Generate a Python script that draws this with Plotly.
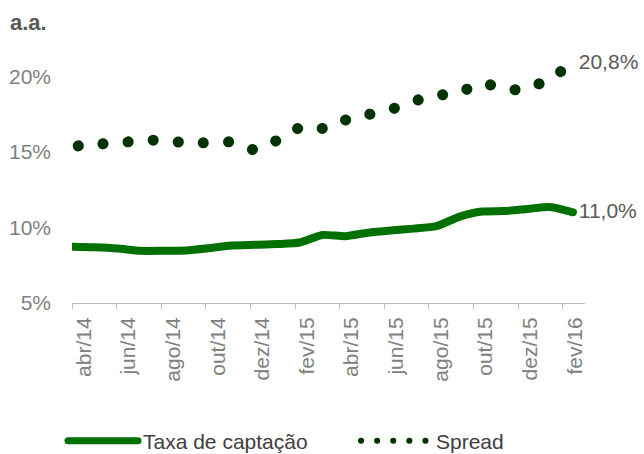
import plotly.graph_objects as go

meses = ["abr/14", "mai/14", "jun/14", "jul/14", "ago/14", "set/14", "out/14", "nov/14", "dez/14",
         "jan/15", "fev/15", "mar/15", "abr/15", "mai/15", "jun/15", "jul/15", "ago/15", "set/15",
         "out/15", "nov/15", "dez/15", "jan/16", "fev/16"]

taxa_captacao = [8.72, 8.68, 8.6, 8.45, 8.45, 8.47, 8.62, 8.8, 8.85, 8.9, 9.0, 9.5,
                 9.42, 9.65, 9.8, 9.92, 10.08, 10.7, 11.05, 11.08, 11.22, 11.35, 11.0]

spread = [15.35, 15.5, 15.58, 15.75, 15.76, 15.6, 15.6, 15.65, 15.14, 15.76, 16.59, 16.55,
          17.1, 17.46, 17.8, 18.35, 18.72, 18.92, 19.55, 19.15, 19.15, 19.9, 20.8]

rotulos_x = meses[::2]
ticks_y = [5, 10, 15, 20]

verde = "#007000"
verde_escuro = "#003300"
fonte = "Liberation Sans, Arial, sans-serif"


def rotulo_final(valores):
    # so o ultimo ponto leva rotulo, no formato 11,0%
    ultimo = "\u00a0" + ("%.1f%%" % valores[-1]).replace(".", ",")
    return [""] * (len(valores) - 1) + [ultimo]


fig = go.Figure()

fig.add_trace(go.Scatter(
    x=meses, y=taxa_captacao, xaxis="x2", name="Taxa de captação",
    mode="lines+text", text=rotulo_final(taxa_captacao), textposition="middle right",
    textfont=dict(size=21, color="#595959", family=fonte),
    line=dict(color=verde, width=8, shape="spline", smoothing=0.6),
    cliponaxis=False, showlegend=False,
))
fig.add_trace(go.Scatter(
    x=meses, y=spread, xaxis="x2", name="Spread",
    mode="lines+text", text=rotulo_final(spread), textposition="middle right",
    textfont=dict(size=21, color="#595959", family=fonte),
    line=dict(color=verde_escuro, width=11, dash="0.1px,25px", shape="spline", smoothing=0.6),
    cliponaxis=False, showlegend=False,
))

# entradas da legenda
fig.add_trace(go.Scatter(x=[None], y=[None], name="Taxa de captação", mode="lines",
                         line=dict(color=verde, width=7), legendwidth=208))
fig.add_trace(go.Scatter(x=[None], y=[None], name="Spread", mode="lines",
                         line=dict(color=verde_escuro, width=6, dash="0.1px,16px")))

fig.update_layout(
    width=644, height=454,
    margin=dict(l=72, r=59, t=46, b=151),
    paper_bgcolor="white", plot_bgcolor="white",
    font=dict(family=fonte, size=21, color="#808080"),
    title=dict(text="<b>a.a.</b>", x=10 / 644, xanchor="left", xref="container",
               y=1 - 22 / 454, yanchor="middle", yref="container",
               font=dict(size=22, color="#595959")),
    xaxis=dict(
        range=[-0.5, 22.5], tickmode="array",
        tickvals=[i - 0.5 for i in range(0, len(meses), 2)], ticktext=rotulos_x,
        tickangle=-90, ticklabelshift=12, ticks="outside", ticklen=5,
        tickcolor="#bfbfbf", showline=True, linecolor="#bfbfbf", linewidth=1,
        showgrid=False, zeroline=False, automargin=False,
        tickfont=dict(size=21, color="#808080"),
    ),
    xaxis2=dict(overlaying="x", range=[0, 22.53], visible=False,
                type="category", categoryorder="array", categoryarray=meses),
    yaxis=dict(
        range=[5, 22], tickmode="array", tickvals=ticks_y,
        ticktext=["%d%%" % v for v in ticks_y], showgrid=False,
        zeroline=False, showline=False, ticks="", ticklabelstandoff=20,
        automargin=False, tickfont=dict(size=21, color="#808080"),
    ),
    legend=dict(orientation="h", xref="container", yref="container",
                x=63 / 644, xanchor="left", y=1 - 441 / 454, yanchor="middle",
                font=dict(size=21, color="#404040"), itemwidth=70),
)

# pontas redondas para o tracejado virar bolinhas
post = """
document.body.style.margin = '0';
var gd = document.getElementById('{plot_id}');
function pontos() {
  gd.querySelectorAll('path.js-line').forEach(function (p) { p.style.strokeLinecap = 'round'; });
  gd.querySelectorAll('.scatterlayer path.js-line').forEach(function (p) {
    if (p.style.strokeDasharray && p.style.strokeDasharray !== 'none') p.style.strokeDashoffset = '19px';
  });
}
pontos();
gd.on('plotly_afterplot', pontos);
"""

fig.write_html("out.html", post_script=post, config={"displayModeBar": False})
